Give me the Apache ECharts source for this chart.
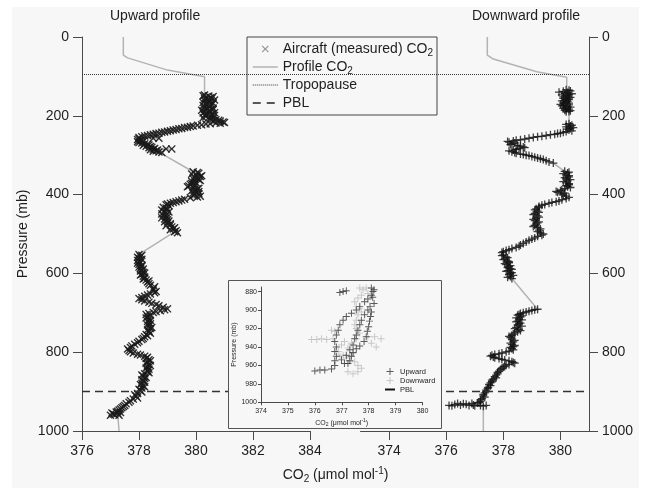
<!DOCTYPE html>
<html><head><meta charset="utf-8">
<script src="https://cdn.jsdelivr.net/npm/echarts@6/dist/echarts.min.js"></script>
<style>
html,body{margin:0;padding:0;background:#fff;}
#wrap{position:relative;width:646px;height:488px;overflow:hidden;}
#bg{position:absolute;left:12px;top:7px;width:627px;height:481px;background:#f7f7f7;}
#chart{position:absolute;left:0;top:0;width:646px;height:488px;}
</style></head><body>
<div id="wrap"><div id="bg"></div><div id="chart"></div></div>
<script>
// ---------- data ----------
const pressureTicks = [0, 200, 400, 600, 800, 1000];
const leftCO2Ticks = [376, 378, 380, 382, 384];
const rightCO2Ticks = [374, 376, 378, 380];
const insetCO2Ticks = [374, 375, 376, 377, 378, 379, 380];
const insetPressureTicks = [880, 900, 920, 940, 960, 980, 1000];
const tropopausePressure = 94;
const pblPressure = 900;

// upward profile: [CO2, pressure]
const upProfileTop = [[377.45,0],[377.45,46],[377.6,53],[379.0,84],[380.3,101],[380.3,147]];
const upMeasured = [
[380.30,147],[380.45,150],[380.35,153],[380.55,156],[380.40,159],[380.30,162],[380.50,165],[380.60,168],[380.35,171],[380.25,174],[380.45,177],[380.60,180],[380.30,183],[380.20,186],[380.50,189],[380.65,192],[380.40,195],[380.30,198],[380.55,201],[380.45,204],[380.60,207],
[380.70,210],[380.85,213],[380.95,216],[380.70,218],
[380.50,220],[380.20,223],[379.90,226],[379.70,229],[379.50,232],[379.30,235],[379.10,238],[378.90,241],[378.70,244],[378.50,247],[378.30,250],[378.10,253],
[378.50,257],[378.70,257],
[378.00,258],[378.05,262],[378.15,265],[378.00,268],[378.20,271],[378.35,274],[378.25,277],[378.45,280],[378.55,283],[378.95,284],[379.15,284],[378.40,286],[378.60,289],[378.70,292],
[379.90,342],[380.10,346],[380.00,350],[380.15,354],[379.95,358],[380.10,362],[379.85,366],[380.00,370],[379.80,374],[379.75,378],[379.90,382],[380.05,386],[379.85,390],[380.00,394],[380.10,398],[379.90,402],[380.05,406],
[379.60,412],[379.40,416],[379.20,420],[379.00,424],[379.05,428],
[378.85,432],[379.00,437],[378.90,442],[378.95,447],[378.85,452],[379.00,457],[378.90,462],[379.05,467],[379.00,472],[379.10,477],[379.15,482],[379.20,487],[379.30,492],[379.35,497],
[378.00,552],[378.05,557],[378.00,562],[377.95,567],[378.05,572],[378.00,577],[378.10,582],[378.05,587],[378.10,592],[378.15,597],[378.10,602],[378.15,607],[378.20,612],[378.25,617],[378.30,622],
[378.40,630],[378.50,638],[378.60,646],[378.40,652],[378.20,658],[378.00,664],[378.20,670],[378.45,676],[378.70,682],[379.00,690],[378.75,695],[378.50,699],[378.25,704],
[378.30,710],[378.35,716],[378.30,722],[378.40,728],[378.35,734],[378.40,740],[378.35,746],[378.40,752],[378.30,758],[378.15,765],
[378.00,772],[377.85,780],[377.70,788],[377.65,796],[377.80,802],[378.05,807],[378.30,813],
[378.35,819],[378.30,825],[378.35,831],[378.30,837],[378.35,843],[378.30,849],[378.20,855],[378.15,861],[378.20,867],[378.15,873],[378.10,879],[378.15,885],[378.10,891],[378.05,897],[377.95,905],[377.90,912],[377.80,919],[377.65,927],[377.50,935],[377.40,941],[377.30,947],[377.20,952],[377.10,957],[377.25,955],[377.30,960]
];
// additional measured samples (scatter only)
const upMeasuredExtra = [
[380.25,149],[380.60,151],[380.50,154],[380.30,157],[380.65,160],[380.45,163],[380.25,166],[380.40,169],[380.55,172],[380.50,175],[380.30,178],[380.40,181],[380.60,184],[380.45,187],[380.30,190],[380.25,193],[380.55,196],[380.65,199],[380.35,202],[380.25,205],[380.50,208],
[380.80,211],[380.60,214],[381.00,217],[380.85,219],[380.35,221],[380.05,224],[379.80,227],[379.60,230],[379.40,233],[379.20,236],[379.00,239],[378.80,242],[378.60,245],[378.40,248],[378.20,251],[378.00,255],
[377.95,260],[378.10,263],[377.95,266],[378.10,269],[378.30,272],[378.15,275],[378.40,278],[378.35,281],[378.50,285],[378.65,287],[378.50,290],[378.80,293],
[380.05,344],[379.85,348],[380.20,352],[380.05,356],[379.90,360],[380.15,364],[379.95,368],[379.85,372],[379.95,376],[379.70,380],[380.10,384],[379.95,388],[380.10,392],[379.90,396],[379.95,400],[380.15,404],[379.80,408],
[379.50,414],[379.30,418],[379.10,422],[378.95,426],
[378.95,434],[378.80,439],[379.05,444],[378.80,449],[378.95,454],[378.80,459],[379.00,464],[378.90,469],[379.10,474],[378.95,479],[379.25,484],[379.10,489],[379.25,494],
[378.10,554],[377.95,559],[378.10,564],[378.00,569],[377.95,574],[378.10,579],[378.00,584],[378.15,589],[378.05,594],[378.20,599],[378.05,604],[378.20,609],[378.15,614],[378.35,619],
[378.35,626],[378.55,634],[378.50,642],[378.55,649],[378.30,655],[378.10,661],[378.10,667],[378.35,673],[378.60,679],[378.85,686],[378.90,692],[378.60,697],[378.35,702],
[378.40,707],[378.25,713],[378.40,719],[378.35,725],[378.30,731],[378.45,737],[378.30,743],[378.35,749],[378.25,755],[378.20,761],
[378.10,768],[377.95,776],[377.75,784],[377.60,792],[377.70,799],[377.95,805],[378.20,810],
[378.25,816],[378.40,822],[378.25,828],[378.40,834],[378.25,840],[378.30,846],[378.35,852],[378.10,858],[378.25,864],[378.10,870],[378.20,876],[378.05,882],[378.20,888],[378.00,894],[378.10,901],[377.85,908],[377.95,916],[377.70,923],[377.55,931],[377.45,938],[377.35,944],[377.25,950],[377.05,954],[377.15,959],[377.35,953],[377.00,960]
];
const upProfileBottom = [[377.3,960],[377.3,1000]];

// downward profile: [CO2, pressure]
const downProfileTop = [[377.44,0],[377.44,46],[377.65,56],[379.17,88],[380.22,102],[380.22,134]];
const downMeasured = [
[380.20,134],[380.35,137],[379.95,140],[380.15,143],[380.30,146],[380.20,149],[380.10,152],[380.30,155],[380.20,158],[380.15,161],[380.25,164],[380.10,167],[380.00,171],[380.10,174],[380.25,177],[380.20,180],[380.30,183],[380.15,186],[380.30,189],
[380.30,220],[380.40,224],[380.20,228],[380.35,232],[380.30,236],[380.20,240],[380.00,244],[379.80,247],[379.50,250],[379.20,253],[378.90,257],[378.60,261],[378.35,264],
[378.20,267],[378.30,271],[378.50,275],[378.70,279],[378.55,283],[378.35,287],[378.30,291],[378.45,295],[378.70,298],[378.90,301],
[379.10,305],[379.30,309],[379.50,314],[379.75,320],
[380.15,341],[380.25,345],[380.20,350],[380.30,355],[380.20,360],[380.25,365],[380.20,370],[380.30,375],[380.25,380],[380.15,385],[380.00,390],[379.90,394],[380.05,398],[380.20,404],[380.20,410],[379.95,416],[379.70,420],[379.45,425],[379.25,430],
[379.15,436],[379.20,442],[379.10,448],[379.20,454],[379.15,460],[379.10,466],[379.20,472],[379.10,478],[379.20,484],[379.25,490],[379.30,497],[379.35,503],[379.10,510],[378.90,516],[378.70,524],[378.55,531],[378.30,537],[378.10,542],[377.95,547],
[378.00,553],[378.10,558],[378.05,563],[378.15,568],[378.20,573],[378.10,578],[378.20,583],[378.25,588],[378.15,593],[378.30,598],[378.20,603],[378.25,608],[378.30,613],
[379.20,691],[379.00,694],[378.80,698],[378.60,702],[378.50,706],[378.60,711],[378.55,716],[378.50,721],[378.60,726],[378.50,731],[378.45,737],[378.55,742],[378.50,748],[378.35,754],[378.20,760],[378.30,767],[378.35,774],[378.30,781],[378.35,786],[378.30,791],[378.20,797],[377.95,802],[377.70,806],[377.55,810],[377.70,814],[377.95,818],[378.20,822],[378.35,826],[378.20,831],[378.05,836],[377.95,841],[377.85,848],[377.80,855],[377.70,862],[377.65,868],[377.60,875],[377.50,882],[377.47,889],[377.40,896],[377.35,903],[377.30,911],[377.25,918],[377.20,925],
[377.15,928],[376.90,930],[376.60,931],[376.30,933],[376.10,935],[376.50,934],[376.80,935],[377.00,936],[377.20,935],[377.30,937]
];
const downMeasuredExtra = [
[380.30,135],[380.10,138],[380.25,141],[380.40,144],[380.05,147],[380.25,150],[380.35,153],[380.10,156],[380.30,159],[380.05,162],[380.20,165],[380.30,168],[380.15,170],[380.30,172],[380.05,175],[380.35,178],[380.10,181],[380.20,184],[380.35,187],[380.20,190],
[380.20,222],[380.35,226],[380.45,230],[380.25,234],[380.40,238],[380.10,242],[379.90,245],[379.65,248],[379.35,252],[379.05,255],[378.75,259],[378.45,262],
[378.15,265],[378.40,269],[378.25,273],[378.60,277],[378.75,281],[378.45,285],[378.20,289],[378.40,293],[378.60,297],[378.80,300],[379.00,303],[379.20,307],[379.40,311],[379.60,317],
[380.30,343],[380.10,347],[380.30,352],[380.15,357],[380.35,362],[380.10,367],[380.30,372],[380.20,377],[380.35,382],[380.05,388],[379.85,392],[380.15,396],[380.10,401],[380.30,407],[380.05,413],[379.85,418],[379.60,422],[379.35,427],
[379.25,433],[379.10,439],[379.25,445],[379.05,451],[379.25,457],[379.05,463],[379.25,469],[379.15,475],[379.05,481],[379.30,487],[379.20,494],[379.40,500],[379.20,506],[379.00,513],[378.80,520],[378.60,528],[378.45,534],[378.20,540],[378.00,545],
[377.95,555],[378.15,560],[378.00,565],[378.20,570],[378.05,575],[378.25,580],[378.15,585],[378.30,590],[378.10,595],[378.25,600],[378.35,605],[378.15,610],
[379.10,692],[378.90,696],[378.70,700],[378.55,704],[378.65,708],[378.45,713],[378.65,718],[378.45,723],[378.55,728],[378.65,734],[378.40,740],[378.60,745],[378.40,751],[378.30,757],[378.25,763],[378.40,770],[378.25,777],[378.40,783],[378.25,788],[378.35,794],[378.10,799],[377.85,804],[377.60,808],[377.65,812],[377.85,816],[378.05,820],[378.30,824],[378.40,828],[378.10,833],[378.00,838],[377.90,844],[377.80,851],[377.75,858],[377.75,865],[377.60,871],[377.55,878],[377.55,885],[377.45,892],[377.40,900],[377.30,907],[377.35,914],[377.20,921],
[376.20,936],[376.40,930],[376.70,932],[376.95,934],[377.10,929],[377.40,935]
];
const downProfileBottom = [[377.3,937],[377.3,1000]];

// inset (near-surface detail): [CO2, pressure]
const insetDown = [
[377.67,876],[377.79,878],[377.91,876],[377.97,882],[377.73,884],[377.60,887],[377.48,891],[377.54,896],[377.67,898],[377.73,902],[377.60,905],[377.54,911],[377.48,916],[377.54,920],
[375.88,932],[376.07,932],[376.25,931],[376.44,932],[376.68,931],[376.74,923],[376.62,922],
[377.97,929],[378.22,929],[378.46,931],[378.28,940],[378.10,936],
[376.99,938],[377.10,934],[377.23,941],[377.36,936],[377.42,947],[377.30,950],[377.17,952],[377.05,949],[377.48,956],[377.60,960],[377.73,963],[377.60,967],[377.42,969],[377.23,967],[376.87,945],[376.93,950],[377.54,931],[377.67,925]
];
const insetUp = [
[376.93,881],[377.05,880],[377.17,879],
[378.10,876],[378.20,878],[378.16,880],[378.10,884],[378.15,886],[377.97,888],[377.85,891],[378.20,893],[378.05,896],[377.67,896],[377.54,900],[377.36,903.5],[377.17,907],[377.05,911],[376.93,916],[376.87,922],[376.80,927],[376.74,934],[376.80,940],[376.74,945],[376.80,950],[376.74,955],[376.74,960],[376.62,964],[376.37,965],[376.19,965],[376.00,966],
[378.10,902],[378.07,907],[378.03,912],[378.00,918],[377.95,923],[377.91,929],[377.83,934],[377.67,939],[377.54,942],[377.42,946],[377.36,950],[377.30,955],[377.23,958],[377.10,958],[376.99,954],[377.17,949],[377.30,943],[377.42,938],[377.48,931],[377.54,927],[377.60,922],[377.67,916],[377.73,911],[377.85,905],[377.97,900]
];

const legendLabels = {
  'Aircraft (measured) CO2': 'Aircraft (measured) CO{s|2}',
  'Profile CO2': 'Profile CO{s|2}',
  'Tropopause': 'Tropopause',
  'PBL': 'PBL'
};
const insetLegendLabels = { insetUp: 'Upward', insetDown: 'Downward', insetPBL: 'PBL' };

// ---------- style ----------
const FONT = 'Liberation Sans, Arial, Helvetica, sans-serif';
const TXT = '#1e1e1e';
const AX = '#4a4a4a';
const X_SYM = 'path://M0,1.2L1.2,0L5,3.8L8.8,0L10,1.2L6.2,5L10,8.8L8.8,10L5,6.2L1.2,10L0,8.8L3.8,5Z';
const PLUS_SYM = 'path://M4.2,0H5.8V4.2H10V5.8H5.8V10H4.2V5.8H0V4.2H4.2Z';
const PLUS_THIN = 'path://M4.3,0H5.7V4.3H10V5.7H5.7V10H4.3V5.7H0V4.3H4.3Z';
const richBig = {
  s: {fontFamily: FONT, fontSize: 10, lineHeight: 10, verticalAlign: 'bottom', color: TXT},
  p: {fontFamily: FONT, fontSize: 10, lineHeight: 10, verticalAlign: 'top', color: TXT}
};
const richSmall = {
  s: {fontFamily: FONT, fontSize: 5, lineHeight: 5, verticalAlign: 'bottom', color: TXT},
  p: {fontFamily: FONT, fontSize: 5, lineHeight: 5, verticalAlign: 'top', color: TXT}
};
const plain = (v) => String(v);

const chart = echarts.init(document.getElementById('chart'), null, {renderer: 'canvas'});

const mainY = (pos) => ({
  gridIndex: 0, type: 'value', position: pos, inverse: true, min: 0, max: 1000, interval: 200,
  axisLine: {show: true, lineStyle: {color: AX, width: 1}},
  axisTick: {show: true, length: 9, lineStyle: {color: AX}},
  axisLabel: {show: true, margin: 13, fontFamily: FONT, fontSize: 14, color: TXT,
    customValues: pressureTicks, formatter: plain},
  splitLine: {show: false},
  name: pos === 'left' ? 'Pressure (mb)' : '',
  nameLocation: 'middle', nameGap: 52, nameMoveOverlap: false,
  nameTextStyle: {fontFamily: FONT, fontSize: 14, color: TXT}
});
const hiddenY = (g) => ({gridIndex: g, type: 'value', inverse: true, min: 0, max: 1000, show: false});

const option = {
  animation: false,
  backgroundColor: 'transparent',
  title: [
    {text: 'Upward profile', left: 110, top: 9, padding: 0,
      textStyle: {fontFamily: FONT, fontSize: 14, fontWeight: 'normal', color: TXT}},
    {text: 'Downward profile', left: 472, top: 9, padding: 0,
      textStyle: {fontFamily: FONT, fontSize: 14, fontWeight: 'normal', color: TXT}}
  ],
  grid: [
    {left: 82, top: 37, width: 507, height: 394, outerBoundsMode: 'none', containLabel: false},
    {left: 82, top: 37, width: 228, height: 394, outerBoundsMode: 'none', containLabel: false},
    {left: 360.5, top: 37, width: 228.5, height: 394, outerBoundsMode: 'none', containLabel: false},
    {left: 261, top: 287, width: 161.5, height: 115.3, z: 10, outerBoundsMode: 'none', containLabel: false}
  ],
  graphic: {elements: [{
    type: 'rect', z: 8, silent: true,
    shape: {x: 228.5, y: 280.5, width: 213, height: 148},
    style: {fill: '#f7f7f7', stroke: '#555', lineWidth: 1}
  }]},
  xAxis: [
    {gridIndex: 0, type: 'value', min: 0, max: 1,
      axisLine: {show: false}, axisTick: {show: false}, axisLabel: {show: false}, splitLine: {show: false},
      name: 'CO{s|2} (\u03bcmol mol{p|-1})', nameLocation: 'middle', nameGap: 35, nameMoveOverlap: false,
      nameTextStyle: {fontFamily: FONT, fontSize: 14, color: TXT, lineHeight: 18, rich: richBig}},
    {gridIndex: 1, type: 'value', min: 376, max: 384, interval: 2,
      axisLine: {show: true, onZero: false, lineStyle: {color: AX}},
      axisTick: {show: true, length: 9, lineStyle: {color: AX}, customValues: leftCO2Ticks},
      axisLabel: {margin: 13, fontFamily: FONT, fontSize: 14, color: TXT, customValues: leftCO2Ticks, formatter: plain},
      splitLine: {show: false}},
    {gridIndex: 2, type: 'value', min: 373, max: 381,
      axisLine: {show: true, onZero: false, lineStyle: {color: AX}},
      axisTick: {show: true, length: 9, lineStyle: {color: AX}, customValues: rightCO2Ticks},
      axisLabel: {margin: 13, fontFamily: FONT, fontSize: 14, color: TXT, customValues: rightCO2Ticks, formatter: plain},
      splitLine: {show: false}},
    {gridIndex: 3, type: 'value', min: 374, max: 380, interval: 1, z: 12,
      axisLine: {show: true, onZero: false, lineStyle: {color: AX}},
      axisTick: {show: true, length: 3, lineStyle: {color: AX}, customValues: insetCO2Ticks},
      axisLabel: {margin: 5, fontFamily: FONT, fontSize: 7, color: TXT, customValues: insetCO2Ticks, formatter: plain},
      splitLine: {show: false},
      name: 'CO{s|2} (\u03bcmol mol{p|-1})', nameLocation: 'middle', nameGap: 16,
      nameTextStyle: {fontFamily: FONT, fontSize: 7, color: TXT, lineHeight: 9, rich: richSmall}}
  ],
  yAxis: [
    mainY('left'),
    mainY('right'),
    hiddenY(1),
    hiddenY(2),
    {gridIndex: 3, type: 'value', inverse: true, min: 875, max: 1000, z: 12,
      axisLine: {show: true, onZero: false, lineStyle: {color: AX}},
      axisTick: {show: true, length: 3, lineStyle: {color: AX}, customValues: insetPressureTicks},
      axisLabel: {margin: 4, fontFamily: FONT, fontSize: 7, color: TXT, customValues: insetPressureTicks, formatter: plain},
      splitLine: {show: false},
      name: 'Pressure (mb)', nameLocation: 'middle', nameGap: 22,
      nameTextStyle: {fontFamily: FONT, fontSize: 7, color: TXT}}
  ],
  legend: [
    {orient: 'vertical', left: 247, top: 37, padding: [3, 4, 3, 5], itemGap: 0,
      itemWidth: 25, itemHeight: 7, selectedMode: false,
      backgroundColor: '#f7f7f7', borderColor: '#444', borderWidth: 1,
      textStyle: {fontFamily: FONT, fontSize: 14, color: TXT, lineHeight: 18, rich: richBig},
      formatter: (n) => legendLabels[n],
      data: [
        {name: 'Aircraft (measured) CO2', icon: X_SYM, itemStyle: {color: '#8a8a8a'}},
        {name: 'Profile CO2', itemStyle: {opacity: 0}, lineStyle: {color: '#b3b3b3', width: 1.5, type: 'solid'}},
        {name: 'Tropopause', itemStyle: {opacity: 0}, lineStyle: {color: '#333', width: 1, type: [1, 1]}},
        {name: 'PBL', itemStyle: {opacity: 0}, lineStyle: {color: '#222', width: 1.3, type: [8, 6]}}
      ]},
    {orient: 'vertical', left: 384, top: 367, padding: 0, itemGap: 0, z: 14,
      itemWidth: 10, itemHeight: 7, selectedMode: false,
      textStyle: {fontFamily: FONT, fontSize: 7.5, color: TXT, lineHeight: 9},
      formatter: (n) => insetLegendLabels[n],
      data: [
        {name: 'insetUp', icon: PLUS_THIN, itemStyle: {color: '#333'}},
        {name: 'insetDown', icon: PLUS_THIN, itemStyle: {color: '#bbb'}},
        {name: 'insetPBL', itemStyle: {opacity: 0}, lineStyle: {color: '#111', width: 2, type: 'solid'}}
      ]}
  ],
  series: [
    {name: 'Tropopause', type: 'line', xAxisIndex: 0, yAxisIndex: 0, data: [], symbol: 'none',
      itemStyle: {color: '#333'},
      lineStyle: {color: '#333', width: 1, type: [1, 1]}, z: 1,
      markLine: {silent: true, symbol: ['none', 'none'], label: {show: false},
        lineStyle: {color: '#333', width: 1, type: [1, 1]}, data: [{yAxis: tropopausePressure}]}},
    {name: 'PBL', type: 'line', xAxisIndex: 0, yAxisIndex: 0, data: [], symbol: 'none',
      itemStyle: {color: '#222'},
      lineStyle: {color: '#222', width: 1.3, type: [8, 6]}, z: 1,
      markLine: {silent: true, symbol: ['none', 'none'], label: {show: false},
        lineStyle: {color: '#333', width: 1.3, type: [8, 5]}, data: [{yAxis: pblPressure}]}},
    {name: 'Profile CO2', type: 'line', xAxisIndex: 1, yAxisIndex: 2, symbol: 'none', showSymbol: false,
      data: upProfileTop.concat(upMeasured, upProfileBottom), itemStyle: {color: '#b3b3b3'},
      lineStyle: {color: '#b3b3b3', width: 1.5}, z: 2},
    {name: 'Profile CO2', type: 'line', xAxisIndex: 2, yAxisIndex: 3, symbol: 'none', showSymbol: false,
      data: downProfileTop.concat(downMeasured, downProfileBottom), itemStyle: {color: '#b3b3b3'},
      lineStyle: {color: '#b3b3b3', width: 1.5}, z: 2},
    {name: 'Aircraft (measured) CO2', type: 'scatter', xAxisIndex: 1, yAxisIndex: 2,
      symbol: X_SYM, symbolSize: 8, data: upMeasured.concat(upMeasuredExtra),
      itemStyle: {color: '#1a1a1a', opacity: 0.9}, z: 3},
    {name: 'Aircraft (measured) CO2', type: 'scatter', xAxisIndex: 2, yAxisIndex: 3,
      symbol: PLUS_SYM, symbolSize: 8, data: downMeasured.concat(downMeasuredExtra),
      itemStyle: {color: '#111'}, z: 3},
    {name: 'insetDown', type: 'scatter', xAxisIndex: 3, yAxisIndex: 4,
      symbol: PLUS_THIN, symbolSize: 7, data: insetDown, itemStyle: {color: '#bbb'}, z: 12},
    {name: 'insetUp', type: 'scatter', xAxisIndex: 3, yAxisIndex: 4,
      symbol: PLUS_THIN, symbolSize: 7, data: insetUp, itemStyle: {color: '#333'}, z: 13},
    {name: 'insetPBL', type: 'line', xAxisIndex: 3, yAxisIndex: 4, data: [], symbol: 'none',
      itemStyle: {color: '#111'},
      lineStyle: {color: '#111', width: 2, type: 'solid'}, z: 12,
      markLine: {silent: true, symbol: ['none', 'none'], label: {show: false},
        lineStyle: {color: '#222', width: 1.2, type: [6, 4]}, data: [{yAxis: pblPressure}]}}
  ]
};
chart.setOption(option);
</script></body></html>
